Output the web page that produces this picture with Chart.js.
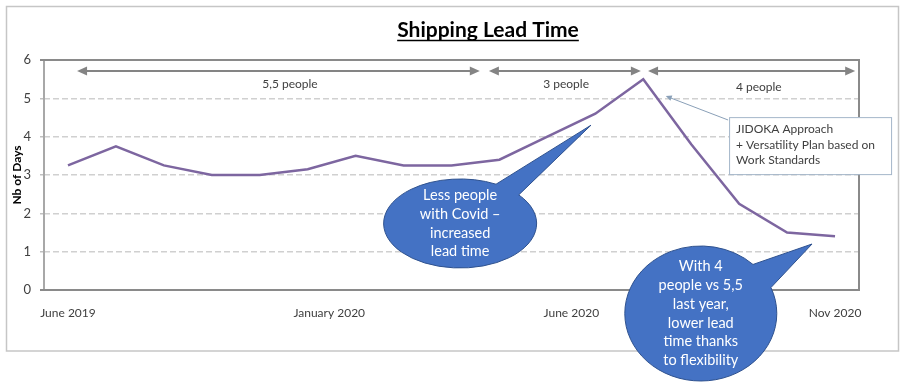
<!DOCTYPE html>
<html><head><meta charset="utf-8">
<script src="https://cdn.jsdelivr.net/npm/chart.js@4.4.1/dist/chart.umd.min.js"></script>
<style>html,body{margin:0;padding:0;background:#fff}canvas{display:block}</style>
</head><body>
<canvas id="c" width="908" height="382"></canvas>
<script>
// ---- data ----
const leadTime = [3.25, 3.75, 3.25, 3.0, 3.0, 3.15, 3.5, 3.25, 3.25, 3.4, 4.0, 4.6, 5.5, 3.8, 2.25, 1.5, 1.4];
const xTickPositions = [0, 5.45, 10.5, 16];
const xTickLabels = ['June 2019', 'January 2020', 'June 2020', 'Nov 2020'];
const yTicks = [0, 1, 2, 3, 4, 5, 6];
const teamLabels = ['5,5 people', '3 people', '4 people'];
const teamStart = [0.19, 8.78, 12.10];
const teamEnd = [8.59, 11.95, 16.42];
const teamLabelX = [4.63, 10.39, 14.41];
const teamLabelY = [5.37, 5.37, 5.30];
const teamArrowY = 5.71;
const titleText = 'Shipping Lead Time';
const yTitle = 'Nb of Days';
const calloutLines = ['JIDOKA Approach', '+ Versatility Plan based on', 'Work Standards'];
const bubble1Lines = ['Less people', 'with Covid \u2013', 'increased', 'lead time'];
const bubble2Lines = ['With 4', 'people vs 5,5', 'last year,', 'lower lead', 'time thanks', 'to flexibility'];

const F = 'Lato, "Open Sans", sans-serif';

function arrowHead(ctx, tx, ty, dx, dy, len, hw) {
  const L = Math.hypot(dx, dy); const ux = dx / L, uy = dy / L;
  const bx = tx - ux * len, by = ty - uy * len;
  ctx.beginPath();
  ctx.moveTo(tx, ty);
  ctx.lineTo(bx - uy * hw, by + ux * hw);
  ctx.lineTo(bx + uy * hw, by - ux * hw);
  ctx.closePath();
  ctx.fill();
}

function bubble(ctx, cx, cy, rx, ry, a1, a2, tx, ty, lines) {
  const r = Math.PI / 180;
  ctx.save();
  ctx.beginPath();
  ctx.ellipse(cx, cy, rx, ry, 0, a2 * r, (a1 + 360) * r, false);
  ctx.lineTo(tx, ty);
  ctx.closePath();
  ctx.fillStyle = '#4472C4';
  ctx.fill();
  ctx.strokeStyle = '#2F528F';
  ctx.lineWidth = 1;
  ctx.stroke();
  ctx.fillStyle = '#ffffff';
  ctx.font = '14.5px ' + F;
  ctx.textAlign = 'center';
  ctx.textBaseline = 'middle';
  const lh = 18.7;
  const y0 = cy - (lines.length - 1) * lh / 2;
  lines.forEach((t, i) => ctx.fillText(t, cx, y0 + i * lh));
  ctx.restore();
}

const overlay = {
  id: 'overlay',
  beforeDraw(chart) {
    const ctx = chart.ctx;
    ctx.save();
    ctx.fillStyle = '#fff';
    ctx.fillRect(0, 0, chart.width, chart.height);
    ctx.strokeStyle = '#c6c6c6';
    ctx.lineWidth = 1.5;
    ctx.strokeRect(6.5, 6.5, 892, 344.5);
    ctx.restore();
  },
  beforeDatasetsDraw(chart) {
    const ctx = chart.ctx, a = chart.chartArea;
    ctx.save();
    ctx.lineWidth = 2;
    ctx.strokeStyle = '#a8a8a8';
    ctx.beginPath(); ctx.moveTo(a.left, a.top); ctx.lineTo(a.left, a.bottom); ctx.stroke();
    ctx.strokeStyle = '#8a8a8a';
    ctx.beginPath();
    ctx.moveTo(a.left - 4, a.top); ctx.lineTo(a.right, a.top); ctx.lineTo(a.right, a.bottom); ctx.lineTo(a.left - 4, a.bottom);
    ctx.stroke();
    ctx.restore();
  },
  afterDraw(chart) {
    const ctx = chart.ctx;
    const xs = chart.scales.x, ys = chart.scales.y;
    const px = v => xs.getPixelForValue(v), py = v => ys.getPixelForValue(v);
    ctx.save();
    // title
    ctx.font = 'bold 21px ' + F;
    ctx.fillStyle = '#000';
    ctx.textAlign = 'center';
    ctx.textBaseline = 'alphabetic';
    const tx = 488, ty = 37;
    ctx.fillText(titleText, tx, ty);
    const tw = ctx.measureText(titleText).width;
    ctx.strokeStyle = '#000'; ctx.lineWidth = 1.5;
    ctx.beginPath(); ctx.moveTo(tx - tw / 2, ty + 3.5); ctx.lineTo(tx + tw / 2, ty + 3.5); ctx.stroke();

    // team arrows
    ctx.strokeStyle = '#848484'; ctx.fillStyle = '#848484'; ctx.lineWidth = 2;
    const ay = py(teamArrowY);
    teamLabels.forEach((lab, i) => {
      const x1 = px(teamStart[i]), x2 = px(teamEnd[i]);
      ctx.beginPath(); ctx.moveTo(x1 + 8, ay); ctx.lineTo(x2 - 8, ay); ctx.stroke();
      arrowHead(ctx, x1, ay, -1, 0, 10, 4.5);
      arrowHead(ctx, x2, ay, 1, 0, 10, 4.5);
    });
    ctx.fillStyle = '#404040';
    ctx.font = '12px ' + F;
    ctx.textBaseline = 'middle';
    teamLabels.forEach((lab, i) => ctx.fillText(lab, px(teamLabelX[i]), py(teamLabelY[i])));

    // callout box
    const bx = px(13.79), byTop = py(4.51), bw = 162, bh = 57;
    ctx.strokeStyle = '#8aa0b8'; ctx.fillStyle = '#8aa0b8'; ctx.lineWidth = 1;
    const tipX = px(12.47), tipY = py(5.06);
    const sX = bx - 1, sY = py(4.435);
    ctx.beginPath(); ctx.moveTo(sX, sY); ctx.lineTo(tipX + 4, tipY + 1.6); ctx.stroke();
    arrowHead(ctx, tipX, tipY, tipX - sX, tipY - sY, 6, 2.8);
    ctx.fillStyle = '#fff';
    ctx.fillRect(bx, byTop, bw, bh);
    ctx.strokeStyle = '#a4b6c9';
    ctx.strokeRect(bx + 0.5, byTop + 0.5, bw, bh);
    ctx.fillStyle = '#404040';
    ctx.textAlign = 'left';
    ctx.font = '12px ' + F;
    calloutLines.forEach((t, i) => ctx.fillText(t, bx + 7, byTop + 12 + i * 15.7));

    // speech bubbles
    bubble(ctx, px(8.18), py(1.735), 76.5, 44.5, -62, -40, px(10.91), py(4.30), bubble1Lines);
    bubble(ctx, px(13.20), py(-0.613), 76, 67.5, -46.6, -22.6, px(15.52), py(1.20), bubble2Lines);
    ctx.restore();
  }
};

new Chart(document.getElementById('c'), {
  type: 'line',
  data: {
    datasets: [{
      data: leadTime.map((v, i) => ({ x: i, y: v })),
      borderColor: '#7D66A0',
      borderWidth: 2.5,
      pointRadius: 0,
      tension: 0,
      fill: false
    }]
  },
  options: {
    responsive: false,
    animation: false,
    events: [],
    layout: { padding: { left: 0, right: 49, top: 60, bottom: 0 } },
    plugins: { legend: { display: false }, tooltip: { enabled: false }, title: { display: false } },
    scales: {
      x: {
        type: 'linear', min: -0.5, max: 16.5,
        afterBuildTicks(s) { s.ticks = xTickPositions.map(v => ({ value: v })); },
        afterFit(s) { s.height = 92; },
        grid: { display: false, drawTicks: false },
        border: { display: false },
        ticks: {
          padding: 16, color: '#404040', font: { family: F, size: 12 },
          autoSkip: false, maxRotation: 0,
          callback(v) { const i = xTickPositions.indexOf(v); return i >= 0 ? xTickLabels[i] : ''; }
        }
      },
      y: {
        min: 0, max: 6,
        afterBuildTicks(s) { s.ticks = yTicks.map(v => ({ value: v })); },
        afterFit(s) { s.width = 44; },
        grid: { color: '#d0d0d0', lineWidth: 1.5, tickLength: 4, tickColor: '#c0c0c0' },
        border: { display: false, dash: [6, 3] },
        ticks: { padding: 9, color: '#404040', font: { family: F, size: 13 } },
        title: { display: true, text: yTitle, color: '#000', font: { family: F, size: 12, weight: 'bold' }, padding: { top: 10, bottom: 0 } }
      }
    }
  },
  plugins: [overlay]
});
</script>
</body></html>
